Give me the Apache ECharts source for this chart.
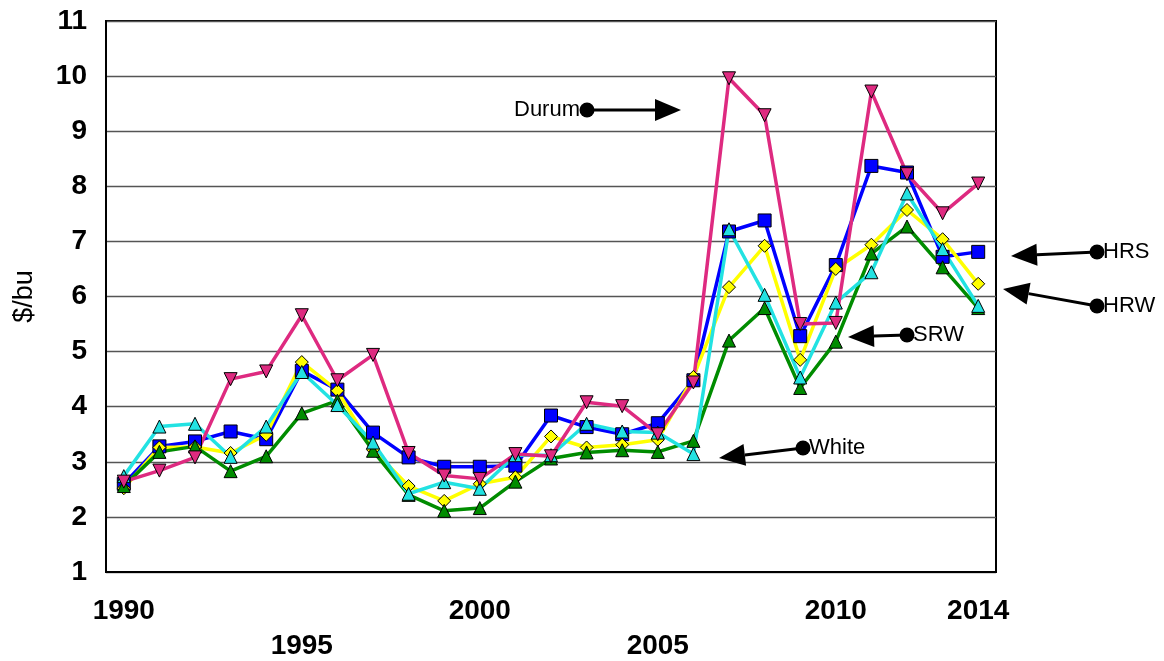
<!DOCTYPE html>
<html>
<head>
<meta charset="utf-8">
<script src="https://cdn.jsdelivr.net/npm/echarts@6/dist/echarts.min.js"></script>
<style>
html,body{margin:0;padding:0;background:#fff;}
#chart{width:1164px;height:661px;}
</style>
</head>
<body>
<div id="chart"></div>
<script>
const years = ['1990','1991','1992','1993','1994','1995','1996','1997','1998','1999','2000','2001','2002','2003','2004','2005','2006','2007','2008','2009','2010','2011','2012','2013','2014'];
const shownYears = ['1990','1995','2000','2005','2010','2014'];
const lowerYears = ['1995','2005'];
const hrs   = [2.60,3.28,3.37,3.55,3.41,4.65,4.31,3.53,3.08,2.91,2.91,2.93,3.84,3.63,3.50,3.70,4.48,7.18,7.38,5.28,6.57,8.37,8.25,6.72,6.81];
const hrw   = [2.52,3.26,3.27,3.16,3.49,4.81,4.29,3.22,2.56,2.29,2.60,2.72,3.46,3.26,3.31,3.40,4.54,6.17,6.92,4.85,6.50,6.94,7.57,7.04,6.23];
const srw   = [2.56,3.18,3.28,2.83,3.10,3.88,4.11,3.20,2.40,2.11,2.16,2.64,3.06,3.17,3.21,3.18,3.38,5.20,5.79,4.34,5.18,6.78,7.27,6.53,5.79];
const white = [2.74,3.64,3.69,3.09,3.64,4.63,4.03,3.35,2.42,2.63,2.51,3.12,3.12,3.69,3.55,3.53,3.14,7.22,6.03,4.53,5.89,6.44,7.87,6.86,5.83];
const durum = [2.64,2.84,3.08,4.50,4.64,5.66,4.48,4.94,3.16,2.75,2.69,3.14,3.10,4.08,4.01,3.50,4.44,9.96,9.29,5.50,5.52,9.72,8.22,7.51,8.05];

const FONT = '"Liberation Sans", Arial, sans-serif';

// annotation arrows: [label, dot x, dot y, tip x, tip y, label side]
const notes = [
  ['Durum', 587, 110, 681, 110, 'left'],
  ['HRS', 1097, 252, 1011, 256, 'right'],
  ['HRW', 1097, 306, 1003, 289, 'right'],
  ['SRW', 907, 335, 848, 337, 'right'],
  ['White', 803, 448, 719, 458, 'right']
];

function arrowGraphics(n) {
  const [label, dx, dy, tx, ty, side] = n;
  const vx = tx - dx, vy = ty - dy;
  const len = Math.sqrt(vx*vx + vy*vy);
  const ux = vx/len, uy = vy/len;
  const L = 26, W = 11;
  const bx = tx - ux*L, by = ty - uy*L;
  const px = -uy, py = ux;
  return [
    {type:'line', shape:{x1:dx,y1:dy,x2:bx,y2:by}, style:{stroke:'#000', lineWidth:3}, z:100},
    {type:'polygon', shape:{points:[[tx,ty],[bx+px*W,by+py*W],[bx-px*W,by-py*W]]}, style:{fill:'#000'}, z:100},
    {type:'circle', shape:{cx:dx,cy:dy,r:7.5}, style:{fill:'#000'}, z:100},
    {type:'text', x: side==='left' ? dx-7 : dx+6, y: dy,
     style:{text:label, fill:'#000', font:'22px '+FONT, textAlign: side==='left'?'right':'left', textVerticalAlign:'middle'}, z:100}
  ];
}

const chart = echarts.init(document.getElementById('chart'));
function mk(name, data, color, symbol, size, rotate) {
  return {
    name, type:'line', data,
    symbol, symbolSize:size, symbolRotate: rotate || 0,
    lineStyle:{color, width:3.5},
    itemStyle:{color, borderColor:'#000', borderWidth:1},
    emphasis:{disabled:true},
    animation:false
  };
}
chart.setOption({
  animation:false,
  backgroundColor:'#fff',
  grid:{left:106, right:168, top:21, bottom:89, show:true, borderColor:'#000', borderWidth:2, backgroundColor:'transparent', containLabel:false, outerBoundsMode:'none'},
  xAxis:{
    type:'category', data:years, boundaryGap:true,
    axisLine:{lineStyle:{color:'#000', width:2}},
    axisTick:{show:false},
    axisLabel:{
      interval:(i, v) => shownYears.indexOf(v) >= 0,
      formatter:(v) => lowerYears.indexOf(v) >= 0 ? '\n' + v : v,
      fontFamily:FONT, fontWeight:'bold', fontSize:28, color:'#000',
      lineHeight:35, margin:22
    },
    splitLine:{show:false}
  },
  yAxis:{
    type:'value', min:1, max:11, interval:1,
    name:'$/bu', nameLocation:'middle', nameRotate:90, nameGap:68,
    nameTextStyle:{fontFamily:FONT, fontSize:27, color:'#000'},
    axisLine:{show:true, lineStyle:{color:'#000', width:2}},
    axisTick:{show:false},
    axisLabel:{fontFamily:FONT, fontWeight:'bold', fontSize:28, color:'#000', margin:19},
    splitLine:{lineStyle:{color:'#555', width:1.3}}
  },
  series:[
    mk('HRS', hrs, '#0000FF', 'rect', 13),
    mk('HRW', hrw, '#FFFF00', 'diamond', 13),
    mk('SRW', srw, '#008C00', 'triangle', 13),
    mk('White', white, '#22E2E2', 'triangle', 13),
    mk('Durum', durum, '#DE2A80', 'triangle', 13, 180)
  ],
  graphic: notes.flatMap(arrowGraphics)
});
</script>
</body>
</html>
